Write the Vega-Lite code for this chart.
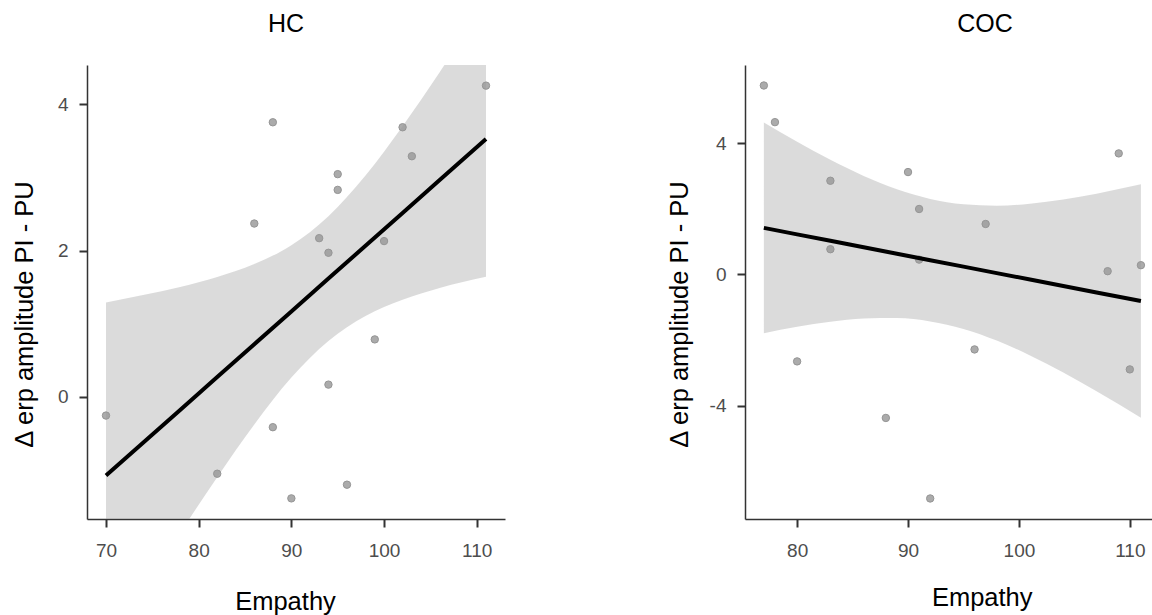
{
  "$schema": "https://vega.github.io/schema/vega-lite/v6.json",
  "autosize": {"type": "pad"},
  "padding": {"left": 12, "top": 12, "right": 0, "bottom": 0},
  "background": "white",
  "spacing": 240,
  "bounds": "flush",
  "config": {
    "view": {"stroke": null},
    "font": "Liberation Sans",
    "axis": {
      "grid": false,
      "domainColor": "#333333",
      "domainWidth": 1.5,
      "tickColor": "#333333",
      "tickWidth": 2,
      "tickSize": 8,
      "labelFontSize": 19,
      "labelColor": "#4d4d4d",
      "labelFont": "Liberation Sans",
      "labelExpr": "'' + datum.value",
      "titleFont": "Liberation Sans",
      "titleFontSize": 25.5,
      "titleFontWeight": "normal",
      "titleColor": "#000000",
      "titleBaseline": "alphabetic"
    },
    "axisX": {"labelPadding": 14},
    "axisY": {"labelPadding": 11},
    "title": {"font": "Liberation Sans", "fontSize": 25, "fontWeight": "normal", "color": "#000000", "frame": "group", "anchor": "middle", "baseline": "alphabetic", "offset": 28}
  },
  "datasets": {
    "hc_points": [
      {"x": 111, "y": 4.255}, {"x": 88, "y": 3.754}, {"x": 102, "y": 3.686}, {"x": 103, "y": 3.29},
      {"x": 95, "y": 3.045}, {"x": 95, "y": 2.83}, {"x": 86, "y": 2.37}, {"x": 93, "y": 2.17},
      {"x": 94, "y": 1.97}, {"x": 100, "y": 2.13}, {"x": 99, "y": 0.786}, {"x": 94, "y": 0.168},
      {"x": 70, "y": -0.255}, {"x": 88, "y": -0.414}, {"x": 82, "y": -1.05}, {"x": 96, "y": -1.2},
      {"x": 90, "y": -1.387}
    ],
    "hc_fit": [
      {"x": 70, "fit": -1.075, "lo": -3.442, "hi": 1.292},
      {"x": 74, "fit": -0.626, "lo": -2.644, "hi": 1.392},
      {"x": 78, "fit": -0.178, "lo": -1.859, "hi": 1.503},
      {"x": 82, "fit": 0.271, "lo": -1.097, "hi": 1.639},
      {"x": 86, "fit": 0.72, "lo": -0.376, "hi": 1.816},
      {"x": 90, "fit": 1.169, "lo": 0.264, "hi": 2.074},
      {"x": 94, "fit": 1.618, "lo": 0.765, "hi": 2.471},
      {"x": 98, "fit": 2.066, "lo": 1.106, "hi": 3.026},
      {"x": 102, "fit": 2.515, "lo": 1.329, "hi": 3.701},
      {"x": 106, "fit": 2.964, "lo": 1.489, "hi": 4.439},
      {"x": 111, "fit": 3.525, "lo": 1.642, "hi": 5.408}
    ],
    "coc_points": [
      {"x": 77, "y": 5.76}, {"x": 78, "y": 4.642}, {"x": 83, "y": 2.855}, {"x": 83, "y": 0.767},
      {"x": 90, "y": 3.12}, {"x": 91, "y": 1.994}, {"x": 91, "y": 0.45}, {"x": 97, "y": 1.537},
      {"x": 109, "y": 3.689}, {"x": 108, "y": 0.097}, {"x": 111, "y": 0.28}, {"x": 80, "y": -2.654},
      {"x": 96, "y": -2.289}, {"x": 110, "y": -2.898}, {"x": 88, "y": -4.378}, {"x": 92, "y": -6.834}
    ],
    "coc_fit": [
      {"x": 77, "fit": 1.417, "lo": -1.796, "hi": 4.63},
      {"x": 80, "fit": 1.22, "lo": -1.601, "hi": 4.041},
      {"x": 83, "fit": 1.023, "lo": -1.446, "hi": 3.492},
      {"x": 86, "fit": 0.826, "lo": -1.349, "hi": 3.001},
      {"x": 89, "fit": 0.63, "lo": -1.334, "hi": 2.594},
      {"x": 92, "fit": 0.433, "lo": -1.434, "hi": 2.3},
      {"x": 95, "fit": 0.236, "lo": -1.664, "hi": 2.136},
      {"x": 98, "fit": 0.039, "lo": -2.018, "hi": 2.096},
      {"x": 101, "fit": -0.158, "lo": -2.471, "hi": 2.155},
      {"x": 104, "fit": -0.354, "lo": -2.993, "hi": 2.285},
      {"x": 107, "fit": -0.551, "lo": -3.564, "hi": 2.462},
      {"x": 111, "fit": -0.814, "lo": -4.373, "hi": 2.745}
    ]
  },
  "hconcat": [
    {
      "width": 418,
      "height": 454,
      "title": {"text": "HC", "dx": -10},
      "layer": [
        {
          "data": {"name": "hc_points"},
          "mark": {"type": "point", "filled": true, "size": 55, "color": "#ababab", "stroke": "#959595", "strokeWidth": 1, "opacity": 1},
          "encoding": {
            "x": {"field": "x", "type": "quantitative", "scale": {"domain": [67.95, 113.05], "nice": false, "zero": false},
                  "axis": {"title": "Empathy", "values": [70, 80, 90, 100, 110], "titleX": 198, "titleY": 90}},
            "y": {"field": "y", "type": "quantitative", "scale": {"domain": [-1.669, 4.537], "nice": false, "zero": false},
                  "axis": {"title": "Δ erp amplitude PI - PU", "values": [0, 2, 4], "titleX": -55, "titleY": 249}}
          }
        },
        {
          "data": {"name": "hc_fit"},
          "mark": {"type": "area", "color": "#999999", "opacity": 0.35, "interpolate": "monotone", "clip": true},
          "encoding": {
            "x": {"field": "x", "type": "quantitative"},
            "y": {"field": "lo", "type": "quantitative"},
            "y2": {"field": "hi"}
          }
        },
        {
          "data": {"name": "hc_fit"},
          "mark": {"type": "line", "color": "#000000", "strokeWidth": 4, "clip": true},
          "encoding": {
            "x": {"field": "x", "type": "quantitative"},
            "y": {"field": "fit", "type": "quantitative"}
          }
        }
      ]
    },
    {
      "width": 407,
      "height": 454,
      "title": {"text": "COC", "dx": 36.5},
      "layer": [
        {
          "data": {"name": "coc_points"},
          "mark": {"type": "point", "filled": true, "size": 55, "color": "#ababab", "stroke": "#959595", "strokeWidth": 1, "opacity": 1},
          "encoding": {
            "x": {"field": "x", "type": "quantitative", "scale": {"domain": [75.3, 112.0], "nice": false, "zero": false},
                  "axis": {"title": "Empathy", "values": [80, 90, 100, 110], "titleX": 236.7, "titleY": 86}},
            "y": {"field": "y", "type": "quantitative", "scale": {"domain": [-7.46, 6.385], "nice": false, "zero": false},
                  "axis": {"title": "Δ erp amplitude PI - PU", "values": [-4, 0, 4], "titleX": -58, "titleY": 249}}
          }
        },
        {
          "data": {"name": "coc_fit"},
          "mark": {"type": "area", "color": "#999999", "opacity": 0.35, "interpolate": "monotone", "clip": true},
          "encoding": {
            "x": {"field": "x", "type": "quantitative"},
            "y": {"field": "lo", "type": "quantitative"},
            "y2": {"field": "hi"}
          }
        },
        {
          "data": {"name": "coc_fit"},
          "mark": {"type": "line", "color": "#000000", "strokeWidth": 4, "clip": true},
          "encoding": {
            "x": {"field": "x", "type": "quantitative"},
            "y": {"field": "fit", "type": "quantitative"}
          }
        }
      ]
    }
  ]
}
